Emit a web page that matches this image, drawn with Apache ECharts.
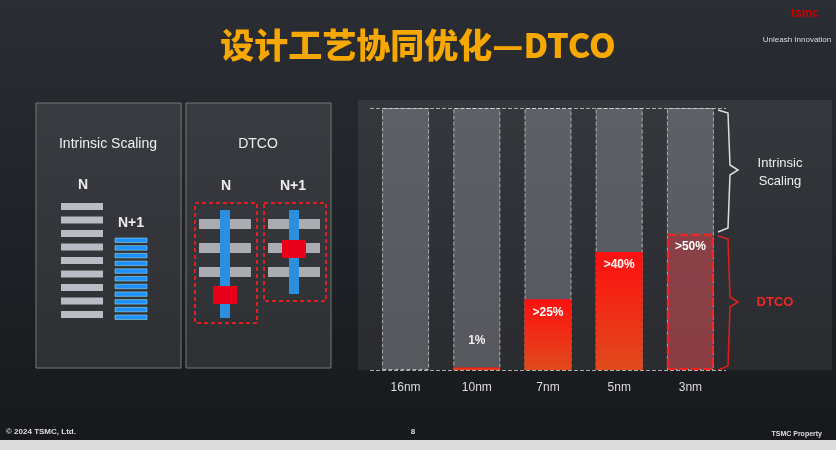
<!DOCTYPE html>
<html>
<head>
<meta charset="utf-8">
<script src="https://cdn.jsdelivr.net/npm/echarts@6/dist/echarts.min.js"></script>
<style>html,body{margin:0;padding:0;background:#1b1e23;}#main{width:836px;height:450px;}</style>
</head>
<body>
<div id="main"></div>
<script>
// 节点与数据
var nodes = ['16nm', '10nm', '7nm', '5nm', '3nm'];
var dtcoShare = [0, 1, 27, 45, 52];          // 柱高
var dtcoLabels = ['', '1%', '>25%', '>40%', '>50%'];
var fullHeight = [100, 100, 100, 100, 100];

var chart = echarts.init(document.getElementById('main'));

var F = '"Liberation Sans", Arial, sans-serif';
var graphics = [];
function rect(x, y, w, h, style) {
    graphics.push({type: 'rect', shape: {x: x, y: y, width: w, height: h}, style: style, z: -1});
}
function text(x, y, t, style) {
    var s = Object.assign({text: t, x: x, y: y, fill: '#eee', font: '15px ' + F, align: 'center', verticalAlign: 'middle'}, style || {});
    graphics.push({type: 'text', style: s, z: 10});
}

// 背景
rect(0, 0, 836, 450, {fill: new echarts.graphic.LinearGradient(0, 0, 0, 1, [{offset: 0, color: '#2a2d33'}, {offset: 1, color: '#16181c'}])});
rect(0, 440, 836, 10, {fill: '#dcdcdc'});
// 标题
text(418, 45, '设计工艺协同优化—DTCO', {fill: '#f7a800', font: '900 34px "Noto Sans CJK SC", sans-serif'});
text(805, 14, 'tsmc', {fill: '#c00', font: 'bold 12px ' + F});
text(797, 40, 'Unleash Innovation', {fill: '#ddd', font: '8px ' + F});
// 页脚
text(6, 432, '© 2024 TSMC, Ltd.', {fill: '#ddd', font: 'bold 8px ' + F, align: 'left'});
text(413, 432, '8', {fill: '#ddd', font: 'bold 8px ' + F});
text(822, 434, 'TSMC Property', {fill: '#ddd', font: 'bold 7px ' + F, align: 'right'});

// 左侧面板
rect(36, 103, 145, 265, {fill: 'rgba(255,255,255,0.09)', stroke: '#777', lineWidth: 1});
rect(186, 103, 145, 265, {fill: 'rgba(255,255,255,0.09)', stroke: '#777', lineWidth: 1});
text(108, 144, 'Intrinsic Scaling', {font: '14px ' + F});
text(258, 144, 'DTCO', {font: '14px ' + F});
text(83, 185, 'N', {font: 'bold 14px ' + F});
text(131, 223, 'N+1', {font: 'bold 14px ' + F});
text(226, 186, 'N', {font: 'bold 14px ' + F});
text(293, 186, 'N+1', {font: 'bold 14px ' + F});
for (var i = 0; i < 9; i++) rect(61, 203 + i * 13.5, 42, 7, {fill: '#b9bcc4'});
for (var j = 0; j < 11; j++) rect(115, 238 + j * 7.7, 32, 4.5, {fill: '#1e90ff', stroke: '#aee', lineWidth: 0.5});
// DTCO 单元
rect(195, 203, 62, 120, {fill: 'none', stroke: '#e02020', lineWidth: 2, lineDash: [4, 3]});
rect(264, 203, 62, 98, {fill: 'none', stroke: '#e02020', lineWidth: 2, lineDash: [4, 3]});
[219, 243, 267].forEach(function (y) { rect(199, y, 52, 10, {fill: '#aaacb2'}); });
[219, 243, 267].forEach(function (y) { rect(268, y, 52, 10, {fill: '#aaacb2'}); });
rect(220, 210, 10, 108, {fill: '#2b8fe0'});
rect(289, 210, 10, 84, {fill: '#2b8fe0'});
rect(213, 286, 24, 18, {fill: '#e8001a'});
rect(282, 240, 24, 18, {fill: '#e8001a'});

// 右侧面板
rect(358, 100, 474, 270, {fill: 'rgba(255,255,255,0.07)'});
// 括号
graphics.push({type: 'polyline', shape: {points: [[718, 110], [728, 113], [730, 165], [738, 170], [730, 175], [728, 228], [718, 232]]}, style: {stroke: '#ddd', lineWidth: 1.5, fill: 'none'}});
graphics.push({type: 'polyline', shape: {points: [[718, 236], [728, 239], [730, 297], [738, 302], [730, 307], [728, 366], [718, 370]]}, style: {stroke: '#e02020', lineWidth: 1.5, fill: 'none'}});
text(780, 163, 'Intrinsic', {font: '13px ' + F});
text(780, 181, 'Scaling', {font: '13px ' + F});
text(775, 302, 'DTCO', {fill: '#f02828', font: 'bold 13px ' + F});

var redGrad = new echarts.graphic.LinearGradient(0, 0, 0, 1, [
    {offset: 0, color: '#ff1010'}, {offset: 1, color: '#e04a1c'}]);

chart.setOption({
    animation: false,
    graphic: graphics,
    grid: {left: 370, width: 356, top: 108, bottom: 80},
    xAxis: {
        type: 'category', data: nodes,
        axisLine: {show: false}, axisTick: {show: false},
        axisLabel: {color: '#ddd', fontSize: 12, fontFamily: F, margin: 12},
        splitLine: {show: false}
    },
    yAxis: {
        type: 'value', min: 0, max: 100, interval: 100,
        axisLabel: {show: false}, axisLine: {show: false}, axisTick: {show: false},
        splitLine: {lineStyle: {color: '#aaa', type: 'dashed'}}
    },
    series: [{
        type: 'bar', data: fullHeight, barWidth: 47, silent: true,
        itemStyle: {color: 'rgba(200,205,215,0.28)', borderColor: 'rgba(220,220,220,0.7)', borderWidth: 1, borderType: 'dashed'}
    }, {
        type: 'bar', barWidth: 47, barGap: '-100%',
        data: dtcoShare.map(function (v, k) {
            var item = {value: v, label: {show: true, formatter: dtcoLabels[k]}};
            if (k === 4) item.itemStyle = {color: 'rgba(200,30,40,0.45)', borderColor: '#ff2020', borderWidth: 2, borderType: 'dashed'};
            if (k === 1) item.label = {show: true, formatter: dtcoLabels[k], position: 'top', offset: [0, -16], color: '#eee'};
            return item;
        }),
        itemStyle: {color: redGrad},
        label: {position: 'insideTop', color: '#fff', fontWeight: 'bold', fontSize: 12, fontFamily: F, offset: [0, 2]}
    }]
});
</script>
</body>
</html>
